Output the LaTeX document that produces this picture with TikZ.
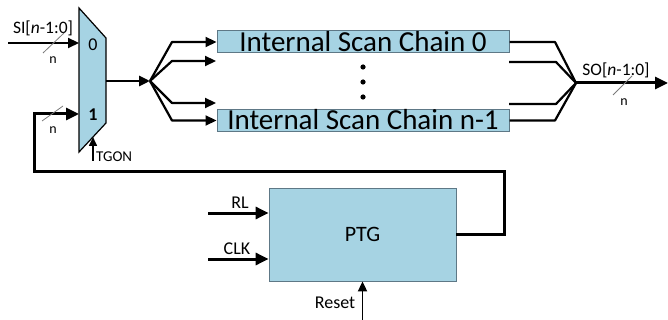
\documentclass[tikz,border=0pt]{standalone}
\usepackage{fontspec}
\setmainfont{Carlito}
\usepackage{xcolor}
\usetikzlibrary{arrows.meta}
\definecolor{chainblue}{HTML}{A6D3E3}
\definecolor{boxedge}{HTML}{5E7886}
\definecolor{slashgray}{HTML}{7A7A7A}

\begin{document}
\begin{tikzpicture}[x=1pt, y=-1pt,
    wire/.style={line width=2.2pt, line join=round, -{Triangle[length=11pt, width=10pt]}},
    bus/.style={line width=3pt, line join=miter, -{Triangle[length=13pt, width=12pt]}},
    fanline/.style={line width=2.2pt, line join=round},
    chain/.style={fill=chainblue, draw=boxedge, line width=1pt, minimum width=292pt,
                  inner sep=0pt, text height=20.5pt, text depth=1.5pt,
                  font=\fontsize{29}{29}\selectfont},
    busmark/.style={draw=slashgray, line width=0.8pt},
    lbl/.style={inner sep=0pt, font=\fontsize{17.5}{17.5}\selectfont},
    pin/.style={inner sep=0pt, font=\fontsize{18}{18}\selectfont},
    small/.style={inner sep=0pt, font=\fontsize{14}{14}\selectfont}]
  \useasboundingbox (0,0) rectangle (668,320);

  % test-mode multiplexer
  \draw[fill=chainblue, line width=1.2pt] (79,8) -- (106,38) -- (106,123) -- (79,152) -- cycle;
  \coordinate (mux0) at (79,43);
  \coordinate (mux1) at (79,114);
  \coordinate (muxout) at (106,81);
  \coordinate (muxsel) at (93,137);
  \node[font=\fontsize{18}{18}\selectfont] (selzero) at (93,45) {0};
  \node[font=\bfseries\fontsize{18}{18}\selectfont] (selone) at (93,115) {1};

  % scan input bus
  \coordinate (siin) at (8,43);
  \draw[wire] (siin) -- (mux0);
  \node[lbl] (silbl) at (43,28) {SI[\textit{n}-1:0]};
  \draw[busmark] (43,53) -- (64,33);
  \node[small] (sin) at (53,60) {n};

  % select
  \coordinate (tgonin) at (93,161);
  \draw[line width=1.6pt, -{Triangle[length=9pt, width=8pt]}] (tgonin) -- (muxsel);
  \node[small, font=\fontsize{15}{15}\selectfont, anchor=west] (tgonlbl) at (96,157) {TGON};

  % scan chains
  \node[chain] (chain0) at (363,42) {Internal Scan Chain 0};
  \node[chain] (chainn) at (363,120.5) {Internal Scan Chain n-1};
  \foreach \y in {67,82,97}
    \fill (363,\y) circle (2.6pt);

  % fan-out to the chains
  \coordinate (fan) at (150,81);
  \coordinate (tap1) at (216,61);
  \coordinate (tap2) at (216,103);
  \draw[wire, line width=2.8pt] (muxout) -- (fan);
  \draw[wire] (fan) -- (172,42) -- (chain0.west);
  \draw[wire] (fan) -- (172,61) -- (tap1);
  \draw[wire] (fan) -- (172,103) -- (tap2);
  \draw[wire] (fan) -- (172,120.5) -- (chainn.west);

  % fan-in to the scan output
  \coordinate (join) at (576,83);
  \coordinate (tail1) at (509,62);
  \coordinate (tail2) at (509,104);
  \draw[fanline] (chain0.east) -- (555,42) -- (join);
  \draw[fanline] (tail1) -- (556,62) -- (join);
  \draw[fanline] (tail2) -- (556,104) -- (join);
  \draw[fanline] (chainn.east) -- (555,120.5) -- (join);
  \coordinate (soend) at (668,83);
  \draw[bus] (join) -- (soend);
  \node[lbl] (solbl) at (616,70) {SO[\textit{n}-1:0]};
  \draw[busmark] (613,95) -- (632,76);
  \node[small] (son) at (624,102) {n};

  % pattern generator
  \node[fill=chainblue, draw=boxedge, line width=0.8pt, minimum width=187pt,
        minimum height=93pt, font=\fontsize{22}{22}\selectfont] (ptg) at (362.5,234.5) {PTG};
  \coordinate (rlin) at (208,213);
  \coordinate (clkin) at (208,259);
  \coordinate (rstin) at (362.5,320);
  \draw[bus] (rlin) -- (ptg.west |- rlin);
  \draw[bus] (clkin) -- (ptg.west |- clkin);
  \draw[line width=1.8pt, -{Triangle[length=10pt, width=9pt]}] (rstin) -- (ptg.south);
  \node[pin] (rllbl) at (240,203) {RL};
  \node[pin] (clklbl) at (237,249) {CLK};
  \node[pin] (rstlbl) at (335,303) {Reset};

  % feedback into mux input 1
  \draw[bus] (ptg.east) -- (504,234.5) -- (504,172) -- (34,172) -- (34,114) -- (mux1);
  \draw[busmark] (42,121) -- (63,106);
  \node[small] (fbn) at (53,130) {n};
\end{tikzpicture}
\end{document}
